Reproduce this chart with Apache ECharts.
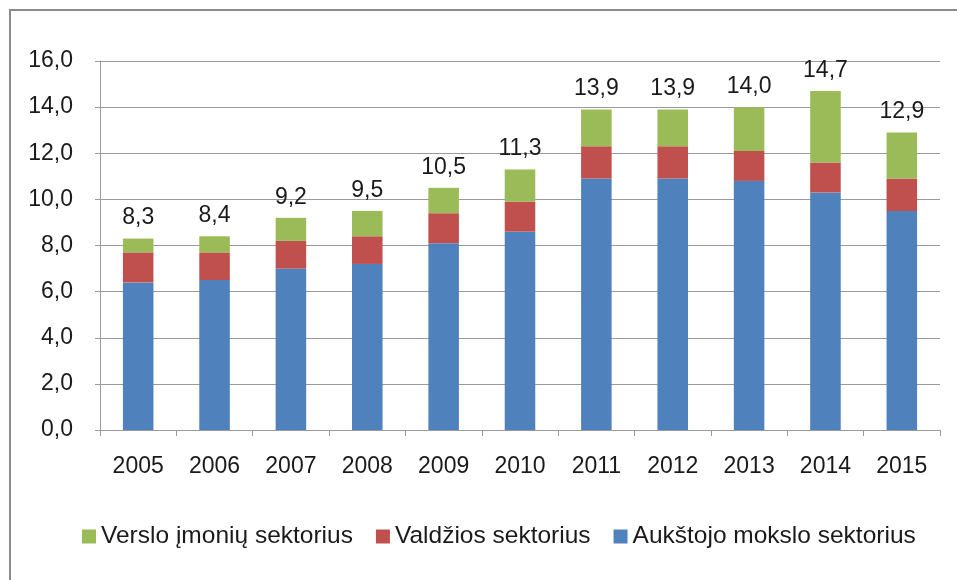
<!DOCTYPE html>
<html>
<head>
<meta charset="utf-8">
<script src="https://cdn.jsdelivr.net/npm/echarts@6/dist/echarts.min.js"></script>
<style>
html,body{margin:0;padding:0;background:#fff;}
#c{width:957px;height:580px;}
</style>
</head>
<body>
<div id="c"></div>
<script>
var years = ['2005','2006','2007','2008','2009','2010','2011','2012','2013','2014','2015'];
var aukstojo = [6.4, 6.5, 7.0, 7.2, 8.1, 8.6, 10.9, 10.9, 10.8, 10.3, 9.5];
var valdzios = [1.3, 1.2, 1.2, 1.2, 1.3, 1.3, 1.4, 1.4, 1.3, 1.3, 1.4];
var verslo   = [0.6, 0.7, 1.0, 1.1, 1.1, 1.4, 1.6, 1.6, 1.9, 3.1, 2.0];
var seriesNames = ['Aukštojo mokslo sektorius', 'Valdžios sektorius', 'Verslo įmonių sektorius'];
var yTicks = {min: 0, max: 16, interval: 2};

var totals = years.map(function(_, i){ return aukstojo[i] + valdzios[i] + verslo[i]; });
function fmt(v){ return v.toFixed(1).replace('.', ','); }

var FONT = '"Liberation Sans", Arial, sans-serif';
var chart = echarts.init(document.getElementById('c'), null, {renderer: 'canvas'});
chart.setOption({
  animation: false,
  backgroundColor: '#fff',
  textStyle: {fontFamily: FONT},
  graphic: [{
    type: 'rect', z: 100, silent: true,
    shape: {x: 10, y: 10, width: 970, height: 600},
    style: {fill: 'none', stroke: '#8a8a8a', lineWidth: 2}
  }],
  grid: {left: 100, right: 17, top: 61, bottom: 150},
  legend: {
    data: [seriesNames[2], seriesNames[1], seriesNames[0]],
    left: 77, top: 519,
    itemWidth: 14, itemHeight: 14, itemGap: 23,
    icon: 'rect',
    textStyle: {fontSize: 24.5, color: '#1a1a1a', fontFamily: FONT}
  },
  xAxis: {
    type: 'category',
    data: years,
    axisLine: {lineStyle: {color: '#9a9a9a', width: 1}},
    axisTick: {show: true, length: 6, lineStyle: {color: '#9a9a9a'}},
    axisLabel: {fontSize: 23, color: '#1a1a1a', margin: 25, fontFamily: FONT}
  },
  yAxis: {
    type: 'value',
    min: yTicks.min, max: yTicks.max, interval: yTicks.interval,
    axisLine: {show: true, lineStyle: {color: '#9a9a9a', width: 1}},
    axisTick: {show: true, length: 5, lineStyle: {color: '#9a9a9a'}},
    splitLine: {lineStyle: {color: '#9a9a9a', width: 1}},
    axisLabel: {fontSize: 23, color: '#1a1a1a', margin: 27, fontFamily: FONT, formatter: function(v){ return fmt(v); }}
  },
  series: [
    {name: seriesNames[0], type: 'bar', stack: 't', data: aukstojo, barWidth: '40%', itemStyle: {color: '#4F81BD'}},
    {name: seriesNames[1], type: 'bar', stack: 't', data: valdzios, barWidth: '40%', itemStyle: {color: '#C0504D'}},
    {name: seriesNames[2], type: 'bar', stack: 't', data: verslo, barWidth: '40%', itemStyle: {color: '#9BBB59'},
      label: {show: true, position: 'top', distance: 9, fontSize: 23, color: '#1a1a1a', fontFamily: FONT,
        formatter: function(p){ return fmt(totals[p.dataIndex]); }}}
  ]
});
</script>
</body>
</html>
